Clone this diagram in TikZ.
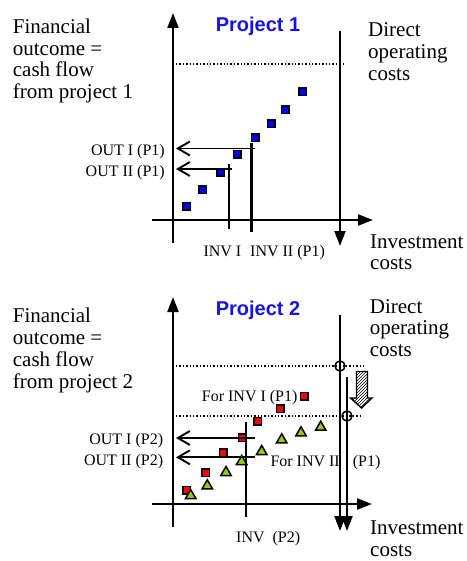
\documentclass[tikz,border=0pt]{standalone}
\usepackage{fontspec}
\setmainfont{Liberation Serif}
\newfontfamily\headfont{Liberation Sans}
\usetikzlibrary{arrows.meta,shapes.geometric,patterns}
\definecolor{sqblue}{RGB}{0,0,235}
\definecolor{sqred}{RGB}{250,0,0}
\definecolor{trigreen}{RGB}{153,204,0}
\definecolor{headblue}{RGB}{20,20,230}
\tikzset{
  bigtext/.style={font=\fontsize{21}{21.8}\selectfont, align=left, inner sep=0pt, anchor=base west},
  smalltext/.style={font=\fontsize{16}{18}\selectfont, inner sep=0pt},
  headtext/.style={font=\headfont\bfseries\fontsize{20}{22}\selectfont, text=headblue, inner sep=0pt, anchor=base},
  axis/.style={line width=2.2pt, -{Triangle[length=15pt,width=11pt]}},
  outline/.style={line width=1.9pt, -{Straight Barb[length=12pt,width=14pt,line width=1.9pt]}},
  invline/.style={line width=2.2pt},
  level/.style={dotted, line width=1.4pt},
  bsq/.style={draw, fill=sqblue, line width=1.5pt, minimum size=7.5pt, inner sep=0pt},
  rsq/.style={draw, fill=sqred, line width=1.5pt, minimum size=7.5pt, inner sep=0pt},
  gtri/.style={regular polygon, regular polygon sides=3, draw, fill=trigreen, line width=1.5pt, minimum size=12pt, inner sep=0pt},
  ringmark/.style={circle, draw, line width=1.5pt, minimum size=10pt, inner sep=0pt}
}
\begin{document}
\begin{tikzpicture}[x=1pt,y=-1pt]
  \useasboundingbox (0,0) rectangle (466,561);

  % project 1 (multi-line texts sit on their last baseline)
  \node[bigtext] (fin1) at (12.7,98.7) {Financial\\outcome =\\cash flow\\from project 1};
  \node[bigtext] (doc1) at (368,80.3) {Direct\\operating\\costs};
  \node[bigtext] (inv1) at (370,269.8) {Investment\\costs};
  \node[headtext] (head1) at (258,31.7) {Project 1};

  \coordinate (ya1) at (173,243);
  \coordinate (yb1) at (173,13);
  \coordinate (xa1) at (152,220);
  \coordinate (xb1) at (373,220);
  \coordinate (da1) at (340,31);
  \coordinate (db1) at (340,246);
  \coordinate (la1) at (176,64);
  \coordinate (lb1) at (343,64);
  \coordinate (ia1) at (229,164);
  \coordinate (ib1) at (229,229);
  \coordinate (ic1) at (251.5,143);
  \coordinate (id1) at (251.5,232);
  \coordinate (oa1) at (255,148.5);
  \coordinate (ob1) at (176,148.5);
  \coordinate (oc1) at (232,169);
  \coordinate (od1) at (176,169);

  \draw
    (186.7,206) node[bsq] (s1){}
    (202.7,190) node[bsq] (s2){}
    (220.7,172.3) node[bsq] (s3){}
    (237.3,154.3) node[bsq] (s4){}
    (255,138) node[bsq] (s5){}
    (271,123.7) node[bsq] (s6){}
    (285,110) node[bsq] (s7){}
    (302.7,91.7) node[bsq] (s8){};

  \draw[axis] (ya1) -- (yb1);
  \draw[axis] (xa1) -- (xb1);
  \draw[axis] (da1) -- (db1);
  \draw[level] (la1) -- (lb1);
  \draw[invline] (ia1) -- (ib1);
  \draw[invline] (ic1) -- (id1);
  \draw[outline] (oa1) -- (ob1);
  \draw[outline] (oc1) -- (od1);

  \node[smalltext, anchor=base east] (out11) at (165,155.3) {OUT I (P1)};
  \node[smalltext, anchor=base east] (out21) at (165,176.7) {OUT II (P1)};
  \node[smalltext, anchor=base west] (invi1) at (203.3,256.7) {INV I};
  \node[smalltext, anchor=base west] (invii1) at (250,256.7) {INV II (P1)};

  % project 2
  \node[bigtext] (fin2) at (12.7,388.1) {Financial\\outcome =\\cash flow\\from project 2};
  \node[bigtext] (doc2) at (369.7,356.6) {Direct\\operating\\costs};
  \node[bigtext] (inv2) at (370,556) {Investment\\costs};
  \node[headtext] (head2) at (258,315) {Project 2};

  \coordinate (ya2) at (173,527);
  \coordinate (yb2) at (173,297);
  \coordinate (xa2) at (152,504);
  \coordinate (xb2) at (372,504);
  \coordinate (da2) at (340,315);
  \coordinate (db2) at (340,531);
  \coordinate (dc2) at (347,377);
  \coordinate (dd2) at (347,531);
  \coordinate (la2) at (176,366);
  \coordinate (lb2) at (366,366);
  \coordinate (lc2) at (176,416);
  \coordinate (ld2) at (361,416);
  \coordinate (ia2) at (246,421.7);
  \coordinate (ib2) at (246,517);
  \coordinate (oa2) at (255,438);
  \coordinate (ob2) at (176,438);
  \coordinate (oc2) at (255,457.3);
  \coordinate (od2) at (176,457.3);

  \draw
    (186.7,490) node[rsq] (r1){}
    (205.7,472.7) node[rsq] (r2){}
    (223.3,452.7) node[rsq] (r3){}
    (242.3,437.7) node[rsq] (r4){}
    (257.7,421.3) node[rsq] (r5){}
    (280,408.7) node[rsq] (r6){}
    (304.3,396) node[rsq] (r7){};
  \draw
    (190.7,495.5) node[gtri] (g1){}
    (207.3,485.8) node[gtri] (g2){}
    (226,472.5) node[gtri] (g3){}
    (241.7,461.5) node[gtri] (g4){}
    (261.7,451.5) node[gtri] (g5){}
    (281.7,439.8) node[gtri] (g6){}
    (301,432.8) node[gtri] (g7){}
    (320.7,427.2) node[gtri] (g8){};

  \draw[axis] (ya2) -- (yb2);
  \draw[axis] (xa2) -- (xb2);
  \draw[axis] (da2) -- (db2);
  \draw[axis] (dc2) -- (dd2);
  \draw[level] (la2) -- (lb2);
  \draw[level] (lc2) -- (ld2);
  \draw[invline] (ia2) -- (ib2);
  \draw[outline] (oa2) -- (ob2);
  \draw[outline] (oc2) -- (od2);
  \node[ringmark] (c1) at (340,366) {};
  \node[ringmark] (c2) at (347,416) {};

  % shift of the cost level
  \draw[line width=1.4pt, pattern=north east lines]
    (356.5,371.5) -- (367.5,371.5) -- (367.5,398) -- (372,398)
    -- (361.5,408) -- (350.5,398) -- (356.5,398) -- cycle;

  \node[smalltext, anchor=base east] (out12) at (163.3,444) {OUT I (P2)};
  \node[smalltext, anchor=base east] (out22) at (163.3,465) {OUT II (P2)};
  \node[smalltext, anchor=base west] (for1) at (201.7,401) {For INV I (P1)};
  \node[smalltext, anchor=base west] (for2) at (270.3,466.7) {For INV II\hspace{9pt} (P1)};
  \node[smalltext, anchor=base west] (invp2) at (236,542.3) {INV\hspace{4pt} (P2)};
\end{tikzpicture}
\end{document}
